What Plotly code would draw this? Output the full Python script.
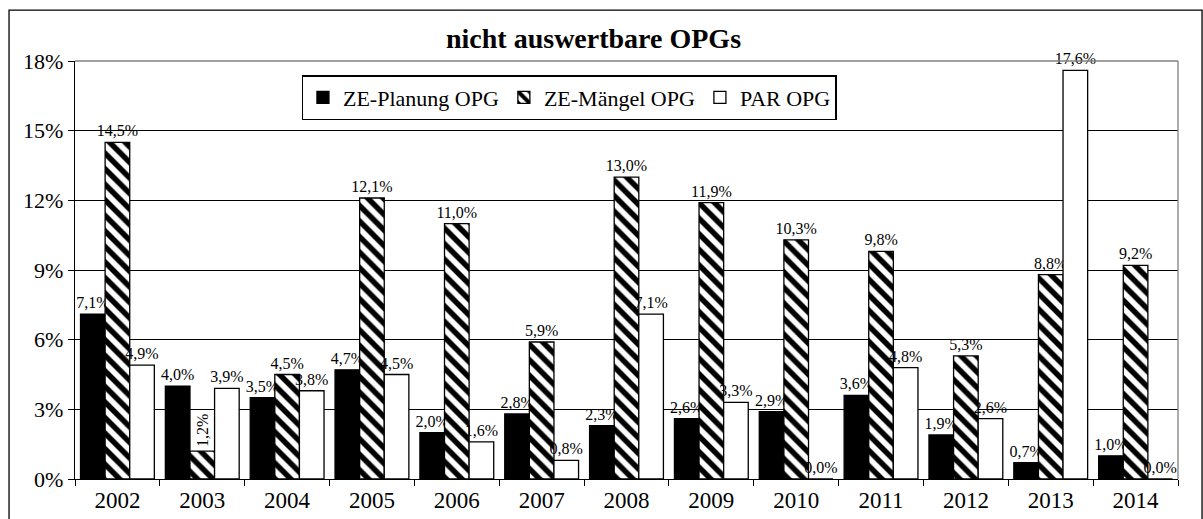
import plotly.graph_objects as go

years = ["2002", "2003", "2004", "2005", "2006", "2007", "2008",
         "2009", "2010", "2011", "2012", "2013", "2014"]
ze_planung = [7.1, 4.0, 3.5, 4.7, 2.0, 2.8, 2.3, 2.6, 2.9, 3.6, 1.9, 0.7, 1.0]
ze_maengel = [14.5, 1.2, 4.5, 12.1, 11.0, 5.9, 13.0, 11.9, 10.3, 9.8, 5.3, 8.8, 9.2]
par_opg = [4.9, 3.9, 3.8, 4.5, 1.6, 0.8, 7.1, 3.3, 0.0, 4.8, 2.6, 17.6, 0.0]
series_names = ["ZE-Planung OPG", "ZE-Mängel OPG", "PAR OPG"]
title = "nicht auswertbare OPGs"
y_ticks = [0, 3, 6, 9, 12, 15, 18]

FONT = "Liberation Serif, Times New Roman, serif"
LBL = dict(family=FONT, size=16, color="black")
OUT = dict(color="black", width=1.3)


def fmt(v):
    return f"{v:.1f}".replace(".", ",") + "%"


i03 = years.index("2003")
planung_text = [fmt(v) for v in ze_planung]
maengel_text = [("" if i == i03 else fmt(v)) for i, v in enumerate(ze_maengel)]
par_text = [fmt(v) for v in par_opg]

fig = go.Figure()
fig.add_bar(x=years, y=ze_planung, name=series_names[0],
            marker=dict(color="black", line=OUT),
            text=planung_text, texttemplate="%{text}", textposition="outside",
            textfont=LBL, constraintext="none", cliponaxis=False)
fig.add_bar(x=years, y=ze_maengel, name=series_names[1],
            marker=dict(color="white", line=OUT,
                        pattern=dict(shape="\\", fgcolor="black", bgcolor="white",
                                     fgopacity=1, size=11, solidity=0.5,
                                     fillmode="replace")),
            text=maengel_text, texttemplate="%{text}", textposition="outside",
            textfont=LBL, constraintext="none", cliponaxis=False)
fig.add_bar(x=years, y=par_opg, name=series_names[2],
            marker=dict(color="white", line=OUT),
            text=par_text, texttemplate="%{text}", textposition="outside",
            textfont=LBL, constraintext="none", cliponaxis=False)

# rotated label for the short 2003 hatched bar (middle bar = category centre)
fig.add_annotation(x=i03, y=ze_maengel[i03], xref="x", yref="y",
                   text=fmt(ze_maengel[i03]),
                   textangle=-90, yanchor="bottom", showarrow=False, yshift=2,
                   font=LBL)

fig.add_annotation(x=0.4705, y=1.055, xref="paper", yref="paper", text=f"<b>{title}</b>",
                   showarrow=False, font=dict(family=FONT, size=28, color="black"),
                   xanchor="center", yanchor="middle")

# gray plot-area border (top and right)
fig.add_shape(type="line", xref="paper", yref="paper", x0=0, x1=1, y0=1, y1=1,
              line=dict(color="#808080", width=1.3), layer="above")
fig.add_shape(type="line", xref="paper", yref="paper", x0=1, x1=1, y0=0, y1=1,
              line=dict(color="#808080", width=1.3), layer="above")
# outer chart border
fig.add_shape(type="rect", xref="paper", yref="paper", x0=-0.0598, x1=1.0218,
              y0=-0.2, y1=1.1215, line=dict(color="black", width=1.3),
              fillcolor="rgba(0,0,0,0)", layer="above")

fig.update_layout(
    width=1203, height=519,
    margin=dict(l=75, r=25, t=61, b=40, autoexpand=False),
    paper_bgcolor="white", plot_bgcolor="white",
    barmode="group", bargap=0.13, bargroupgap=0,
    font=dict(family=FONT, color="black"),
    showlegend=True,
    legend=dict(orientation="h", x=0.448, y=0.966, xanchor="center", yanchor="top",
                bgcolor="white", bordercolor="black", borderwidth=1.3,
                font=dict(family=FONT, size=22, color="black"),
                traceorder="normal", itemwidth=30),
    xaxis=dict(type="category", range=[-0.5, len(years) - 0.5], automargin=False,
               tickson="boundaries", ticks="outside", ticklen=6,
               tickcolor="black", tickwidth=1.3, showline=True, linecolor="black",
               linewidth=1.3, showgrid=False,
               tickfont=dict(family=FONT, size=23, color="black")),
    yaxis=dict(range=[0, 18], tickmode="array", tickvals=y_ticks, automargin=False,
               ticktext=[f"{t}%" for t in y_ticks], ticks="outside",
               ticklen=6, tickcolor="black", tickwidth=1.3, showline=True,
               linecolor="black", linewidth=1.3, showgrid=True, gridcolor="black",
               gridwidth=1.3, zeroline=False,
               tickfont=dict(family=FONT, size=22, color="black")),
)

fig.write_html("out.html", config={"displayModeBar": False},
               post_script="document.body.style.margin='0';"
                           "document.body.style.overflow='hidden';")
